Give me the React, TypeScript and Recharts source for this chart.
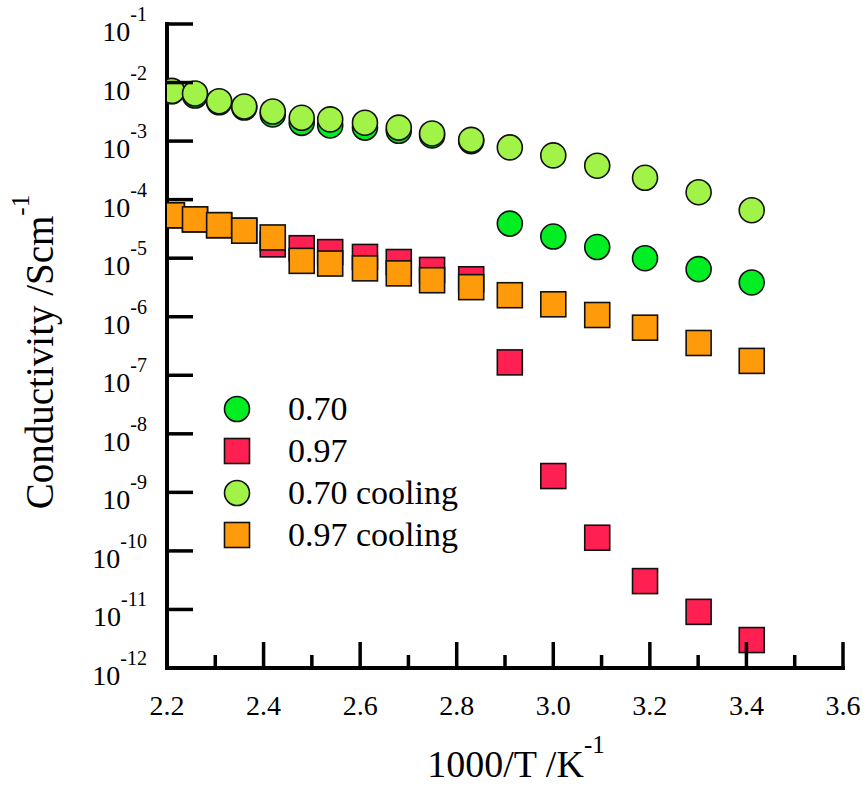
import React from 'react';
import { ScatterChart, Scatter, XAxis, YAxis, Legend, Label } from 'recharts';

// 1000/T values (K^-1)
const invT = [2.21, 2.258, 2.308, 2.36, 2.419, 2.479, 2.538, 2.61, 2.68, 2.749, 2.83, 2.91, 3.0, 3.091, 3.19, 3.301, 3.411];

// Conductivity (S cm^-1)
const heat070 = [7.1e-3, 6.0e-3, 4.6e-3, 3.75e-3, 2.85e-3, 2.05e-3, 1.85e-3, 1.7e-3, 1.5e-3, 1.25e-3, 1.0e-3, 3.9e-5, 2.34e-5, 1.55e-5, 1.0e-5, 6.5e-6, 3.85e-6];
const heat097 = [5.4e-5, 4.6e-5, 3.66e-5, 2.95e-5, 1.72e-5, 1.48e-5, 1.27e-5, 1.05e-5, 8.6e-6, 6.3e-6, 4.36e-6, 1.66e-7, 1.9e-9, 1.68e-10, 3.05e-11, 9.1e-12, 3.0e-12];
const cool070 = [7.2e-3, 6.5e-3, 4.8e-3, 3.9e-3, 3.2e-3, 2.5e-3, 2.35e-3, 2.06e-3, 1.7e-3, 1.35e-3, 1.05e-3, 7.8e-4, 5.7e-4, 3.8e-4, 2.36e-4, 1.34e-4, 6.6e-5];
const cool097 = [5.4e-5, 4.6e-5, 3.66e-5, 2.95e-5, 2.26e-5, 9.0e-6, 8.1e-6, 6.7e-6, 5.5e-6, 4.2e-6, 3.2e-6, 2.33e-6, 1.63e-6, 1.07e-6, 6.5e-7, 3.56e-7, 1.76e-7];

const seriesNames = ['0.70', '0.97', '0.70 cooling', '0.97 cooling'];

const xTicks = [2.2, 2.3, 2.4, 2.5, 2.6, 2.7, 2.8, 2.9, 3.0, 3.1, 3.2, 3.3, 3.4, 3.5, 3.6];
const xMajorLabels: Record<string, string> = {
  '2.2': '2.2', '2.4': '2.4', '2.6': '2.6', '2.8': '2.8', '3': '3.0', '3.2': '3.2', '3.4': '3.4', '3.6': '3.6',
};
const yTicks = [1e-12, 1e-11, 1e-10, 1e-9, 1e-8, 1e-7, 1e-6, 1e-5, 1e-4, 1e-3, 1e-2, 1e-1];
const yExponents = ['-12', '-11', '-10', '-9', '-8', '-7', '-6', '-5', '-4', '-3', '-2', '-1'];

const FONT = "Liberation Serif, DejaVu Serif, Times New Roman, Times, serif";
const INK = '#000';

const colors = ['#00ee22', '#ff1f50', '#a2f348', '#ff9a0a'];
const shapes = ['circle', 'square', 'circle', 'square'];

const toPoints = (vals: number[]) => invT.map((x, i) => ({ x, y: vals[i] }));
const seriesData = [toPoints(heat070), toPoints(heat097), toPoints(cool070), toPoints(cool097)];

const MARK = 25;

const makeShape = (kind: string, fill: string) => (props: any) => {
  const { cx, cy } = props;
  if (cx == null || cy == null) return <g />;
  if (kind === 'circle') {
    return <circle cx={cx} cy={cy} r={MARK / 2} fill={fill} stroke="#111" strokeWidth={1.6} />;
  }
  return <rect x={cx - MARK / 2} y={cy - MARK / 2} width={MARK} height={MARK} fill={fill} stroke="#111" strokeWidth={1.6} />;
};

const isMajorX = (v: number) => Math.round(v * 10) % 2 === 0;
const MAJOR = 26;
const MINOR = 13;
const TICKW = 3.5;

const BottomTick = (props: any) => {
  const { x, y, payload } = props;
  const v = payload.value;
  const major = isMajorX(v);
  const key = String(Math.round(v * 10) / 10);
  return (
    <g>
      <line x1={x} y1={y} x2={x} y2={y - (major ? MAJOR : MINOR)} stroke={INK} strokeWidth={TICKW} />
      {major && (
        <text x={x} y={y + 47} textAnchor="middle" style={{ fontFamily: FONT, fontSize: 28 }} fill={INK}>
          {xMajorLabels[key]}
        </text>
      )}
    </g>
  );
};

const TopTick = (props: any) => {
  const { x, y, payload } = props;
  const major = isMajorX(payload.value);
  return <line x1={x} y1={y} x2={x} y2={y + (major ? MAJOR : MINOR)} stroke={INK} strokeWidth={TICKW} />;
};

const LeftTick = (props: any) => {
  const { x, y, index } = props;
  return (
    <g>
      <line x1={x} y1={y} x2={x + MAJOR} y2={y} stroke={INK} strokeWidth={TICKW} />
      <text x={x - 20} y={y + 17} textAnchor="end" style={{ fontFamily: FONT, fontSize: 28 }} fill={INK}>
        <tspan>10</tspan>
        <tspan style={{ fontSize: 20 }} dy={-20}>{yExponents[index]}</tspan>
      </text>
    </g>
  );
};

const RightTick = (props: any) => {
  const { x, y } = props;
  return <line x1={x} y1={y} x2={x - MAJOR} y2={y} stroke={INK} strokeWidth={TICKW} />;
};

const XTitle = (props: any) => {
  const vb = props.viewBox || { x: 167, y: 668, width: 676 };
  return (
    <text x={vb.x + vb.width / 2 + 11} y={vb.y + 109} textAnchor="middle" style={{ fontFamily: FONT, fontSize: 38 }} fill={INK}>
      <tspan>1000/T /K</tspan>
      <tspan style={{ fontSize: 25 }} dy={-24}>-1</tspan>
    </text>
  );
};

const YTitle = (props: any) => {
  const vb = props.viewBox || { x: 0, y: 24, width: 167, height: 644 };
  const cx = vb.x + 53;
  const cy = vb.y + vb.height / 2 + 6;
  return (
    <text x={cx} y={cy} transform={`rotate(-90, ${cx}, ${cy})`} textAnchor="middle" style={{ fontFamily: FONT, fontSize: 39 }} fill={INK}>
      <tspan>Conductivity /Scm</tspan>
      <tspan style={{ fontSize: 25 }} dy={-24}>-1</tspan>
    </text>
  );
};

const LegendContent = () => (
  <div style={{ fontFamily: FONT, fontSize: 34, color: INK }}>
    {seriesNames.map((name, i) => (
      <div key={name} style={{ display: 'flex', alignItems: 'center', height: 42 }}>
        <svg width={30} height={30} style={{ display: 'block' }}>
          {shapes[i] === 'circle' ? (
            <circle cx={15} cy={15} r={12.5} fill={colors[i]} stroke="#111" strokeWidth={1.6} />
          ) : (
            <rect x={2.5} y={2.5} width={25} height={25} fill={colors[i]} stroke="#111" strokeWidth={1.6} />
          )}
        </svg>
        <span style={{ marginLeft: 36, lineHeight: '42px', whiteSpace: 'nowrap', fontFamily: FONT }}>{name}</span>
      </div>
    ))}
  </div>
);

export default function App() {
  return (
    <div style={{ position: 'absolute', left: 0, top: 0, width: 867, height: 787, background: '#fff', fontFamily: FONT }}>
      <ScatterChart width={867} height={787} margin={{ top: 24, right: 24, bottom: 0, left: 0 }} style={{ fontFamily: FONT }}>
        <XAxis
          xAxisId="bottom"
          dataKey="x"
          type="number"
          domain={[2.2, 3.6]}
          ticks={xTicks}
          interval={0}
          height={119}
          tickSize={0}
          tickMargin={0}
          tickLine={false}
          tick={<BottomTick />}
          axisLine={{ stroke: INK, strokeWidth: 4, strokeLinecap: 'square' }}
          allowDataOverflow
        >
          <Label content={<XTitle />} />
        </XAxis>
        <XAxis
          xAxisId="top"
          orientation="top"
          type="number"
          domain={[2.2, 3.6]}
          ticks={xTicks}
          interval={0}
          height={0}
          tickSize={0}
          tickMargin={0}
          tickLine={false}
          tick={<TopTick />}
          axisLine={{ stroke: INK, strokeWidth: 4, strokeLinecap: 'square' }}
          allowDataOverflow
        />
        <YAxis
          yAxisId="left"
          dataKey="y"
          type="number"
          scale="log"
          domain={[1e-12, 1e-1]}
          ticks={yTicks}
          interval={0}
          width={167}
          tickSize={0}
          tickMargin={0}
          tickLine={false}
          tick={<LeftTick />}
          axisLine={{ stroke: INK, strokeWidth: 4, strokeLinecap: 'square' }}
          allowDataOverflow
        >
          <Label content={<YTitle />} />
        </YAxis>
        <YAxis
          yAxisId="right"
          orientation="right"
          type="number"
          scale="log"
          domain={[1e-12, 1e-1]}
          ticks={yTicks}
          interval={0}
          width={0}
          tickSize={0}
          tickMargin={0}
          tickLine={false}
          tick={<RightTick />}
          axisLine={{ stroke: INK, strokeWidth: 4, strokeLinecap: 'square' }}
          allowDataOverflow
        />
        <Legend
          layout="vertical"
          align="center"
          verticalAlign="middle"
          content={<LegendContent />}
          wrapperStyle={{ left: 222, top: 388, width: 320, height: 168 }}
        />
        {seriesData.map((d, i) => (
          <Scatter
            key={seriesNames[i]}
            name={seriesNames[i]}
            data={d}
            xAxisId="bottom"
            yAxisId="left"
            fill={colors[i]}
            isAnimationActive={false}
            shape={makeShape(shapes[i], colors[i])}
          />
        ))}
      </ScatterChart>
    </div>
  );
}
